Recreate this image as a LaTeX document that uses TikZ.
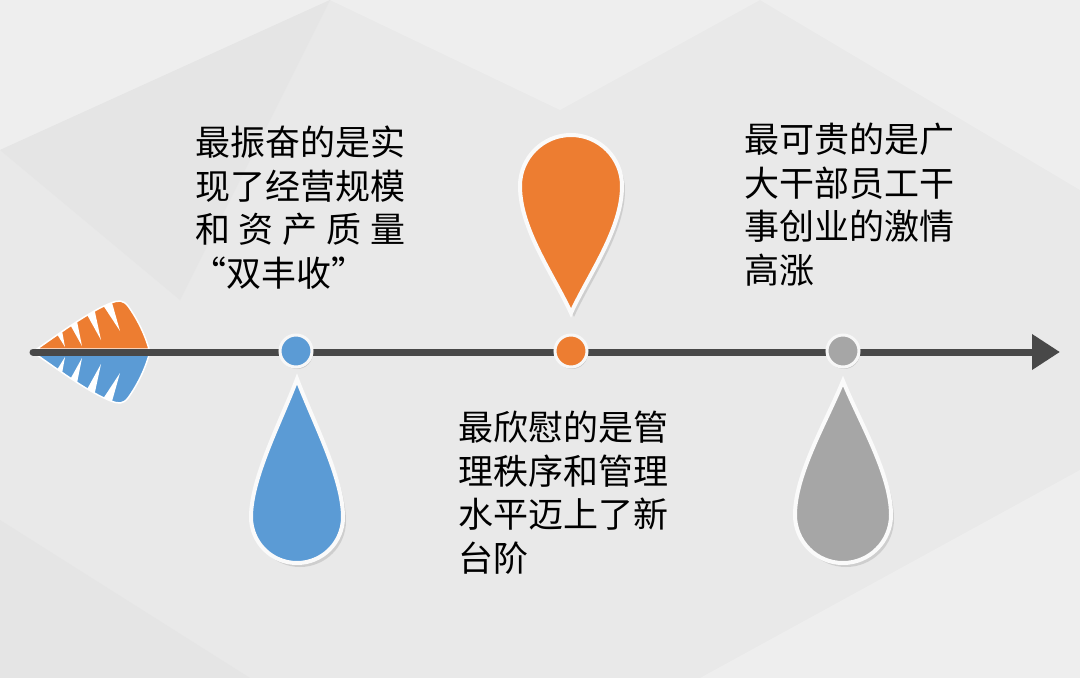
\documentclass[tikz,border=0pt]{standalone}
\usepackage{fontspec}
\usepackage{tikz}
\usepackage{xcolor}
\usetikzlibrary{arrows.meta,shadows}
\newfontfamily\cjk{Noto Sans CJK SC}

\definecolor{bgC}{RGB}{233,233,233}
\definecolor{bgL}{RGB}{238,238,238}
\definecolor{bgD}{RGB}{229,229,229}
\definecolor{blueC}{RGB}{91,155,213}
\definecolor{orangeC}{RGB}{237,125,49}
\definecolor{grayC}{RGB}{166,166,166}
\definecolor{axisC}{RGB}{72,72,72}

% teardrop: x, y of tip, colour, rotation, radius, tip-to-centre
\newcommand{\teardrop}[6]{%
  \begin{scope}[shift={(#1,#2)}, rotate=#4]
  \draw[white!96!gray, line width=4, miter limit=6, fill=#3,
        drop shadow={shadow xshift=3pt, shadow yshift=-4pt, opacity=0.25}]
    (0,0) .. controls (0.34*#5,0.3*#6) and (#5,#6-0.85*#5) .. (#5,#6)
    arc[start angle=0, end angle=180, radius=#5]
    .. controls (-#5,#6-0.85*#5) and (-0.34*#5,0.3*#6) .. cycle;
  \end{scope}}

\begin{document}
\begin{tikzpicture}[x=1pt, y=-1pt,
  dot/.style={circle, minimum size=32pt, inner sep=0pt, line width=3pt,
    draw=white!94!gray, drop shadow={shadow xshift=1pt, shadow yshift=-2pt, opacity=0.3}},
  note/.style={anchor=north west, align=left, inner sep=0pt, text=black,
    font=\cjk\fontsize{35}{43.5}\selectfont}]
  \useasboundingbox (0,0) rectangle (1080,678);
  % background
  \fill[bgC] (0,0) rectangle (1080,678);
  \fill[bgL] (0,0) -- (330,0) -- (0,150) -- cycle;
  \fill[bgL] (330,0) -- (760,0) -- (560,110) -- cycle;
  \fill[bgD] (0,150) -- (330,0) -- (180,300) -- cycle;
  \fill[bgL] (760,0) -- (1080,0) -- (1080,190) -- cycle;
  \fill[bgL] (700,678) -- (1080,470) -- (1080,678) -- cycle;
  \fill[bgD] (0,520) -- (250,678) -- (0,678) -- cycle;

  % fletching
  \foreach \fc/\sh/\ys in {orangeC/0/1, blueC/704/-1}{
    \begin{scope}[shift={(0,\sh)}, yscale=\ys]
    \draw[white, line width=1.5, fill=\fc]
      (37,349) .. controls (60,333) and (90,311) .. (111,303)
      .. controls (119,300) and (123,300) .. (128,306)
      .. controls (138,320) and (145,335) .. (149,349) -- cycle;
    \clip (37,349) .. controls (60,333) and (90,311) .. (111,303)
      .. controls (119,300) and (123,300) .. (128,306)
      .. controls (138,320) and (145,335) .. (149,349) -- cycle;
    \foreach \tx/\ty/\ax/\ay in {56/326/65/347, 71/318/82/346, 89/310/101/340, 106/304/120/331}
      \fill[white] (\ax,\ay) -- (\tx-9,\ty-8) -- (\tx+3,\ty-12) -- cycle;
    \end{scope}}

  % axis
  \coordinate (tail) at (33,352);
  \coordinate (head) at (1060,352);
  \draw[axisC, line width=7, line cap=round,
        -{Triangle[length=28pt, width=34pt]}] (tail) -- (head);

  % drops
  \teardrop{297}{379}{blueC}{0}{46}{138}
  \teardrop{571}{313}{orangeC}{180}{51}{127}
  \teardrop{843}{381}{grayC}{0}{48}{134}

  % dots on the axis
  \node[dot, fill=blueC] (dotA) at (296,351) {};
  \node[dot, fill=orangeC] (dotB) at (571,351) {};
  \node[dot, fill=grayC] (dotC) at (843,351) {};

  % texts
  \node[note] (txtA) at (195,126) {最振奋的是实\\现了经营规模\\和\hspace{0.25em}资\hspace{0.25em}产\hspace{0.25em}质\hspace{0.25em}量\\\hspace{-0.1em}“双丰收”};
  \node[note] (txtB) at (458,411) {最欣慰的是管\\理秩序和管理\\水平迈上了新\\台阶};
  \node[note] (txtC) at (744,123) {最可贵的是广\\大干部员工干\\事创业的激情\\高涨};
\end{tikzpicture}
\end{document}
